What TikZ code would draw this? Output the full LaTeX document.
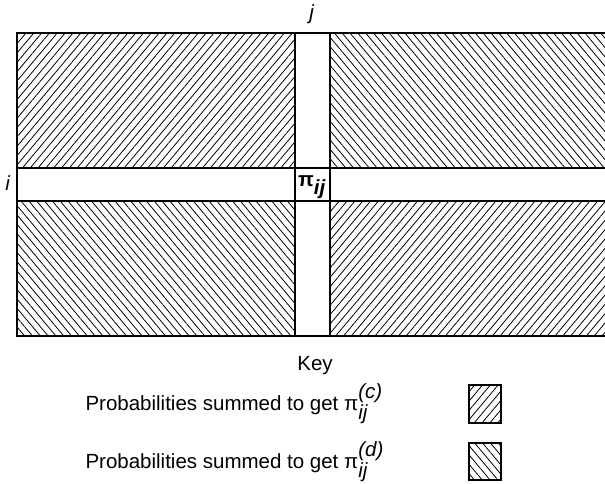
\documentclass[tikz,border=0pt]{standalone}
\usepackage{fontspec}
\setmainfont{Liberation Sans}
\usetikzlibrary{patterns.meta}
\tikzset{
  hatchc/.style={pattern={Lines[angle=50,distance=6pt,line width=0.8pt]}},
  hatchd/.style={pattern={Lines[angle=-50,distance=6pt,line width=0.8pt]}},
  rule/.style={line width=1.4pt},
}
\begin{document}
\begin{tikzpicture}[x=1pt, y=1pt, font=\fontsize{20.5}{24}\selectfont]
  \useasboundingbox (0,0) rectangle (605,484);
  % hatched blocks
  \fill[hatchc] (17,316) rectangle (295,451);
  \fill[hatchd] (330,316) rectangle (606,451);
  \fill[hatchd] (17,148) rectangle (295,283);
  \fill[hatchc] (330,148) rectangle (606,283);
  % frame
  \draw[rule] (606,451) -- (17,451) -- (17,148) -- (606,148);
  \draw[rule] (17,316) -- (606,316);
  \draw[rule] (17,283) -- (606,283);
  \draw[rule] (295,451) -- (295,148);
  \draw[rule] (330,451) -- (330,148);
  \node (colj) at (312,470) {\textit{j}};
  \node (rowi) at (8,301) {\textit{i}};
  \node (pij) at (312,297) {\textbf{π}$_{\textit{\textbf{ij}}}$};
  % key
  \node (key) at (315,118) {Key};
  \node[anchor=west] (keyc) at (82,80) {Probabilities summed to get π$^{\textit{(c)}}_{\textit{ij}}$};
  \node[anchor=west] (keyd) at (82,22) {Probabilities summed to get π$^{\textit{(d)}}_{\textit{ij}}$};
  \fill[hatchc] (469,61) rectangle (501,99);
  \draw[rule] (469,61) rectangle (501,99);
  \fill[hatchd] (469,4) rectangle (501,41);
  \draw[rule] (469,4) rectangle (501,41);
\end{tikzpicture}
\end{document}
